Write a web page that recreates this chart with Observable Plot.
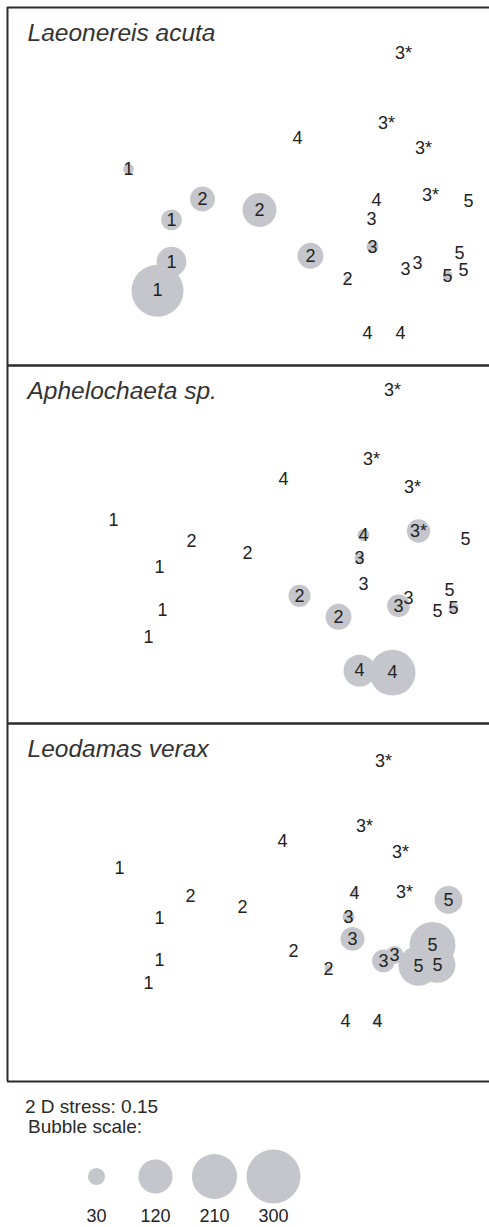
<!DOCTYPE html>
<html><head><meta charset="utf-8">
<script src="https://cdn.jsdelivr.net/npm/d3@7"></script>
<script src="https://cdn.jsdelivr.net/npm/@observablehq/plot@0.6"></script>
<style>
html,body{margin:0;padding:0;background:#fff;overflow:hidden;}
#wrap{position:relative;width:489px;height:1227px;font-family:Arial,"Liberation Sans",sans-serif;color:#2a2a2a;}
#main{position:absolute;left:0;top:0;}
#legend{position:absolute;left:0;top:1140px;}
.note{position:absolute;font-size:19px;line-height:22px;white-space:nowrap;}
</style></head><body>
<div id="wrap">
  <div id="main"></div>
  <div class="note" style="left:25px;top:1096px">2 D stress: 0.15</div>
  <div class="note" style="left:28px;top:1116px">Bubble scale:</div>
  <div id="legend"></div>
</div>
<script>
// Panels (species) shown with abundance bubbles over the same nMDS ordination
const species = ["Laeonereis acuta", "Aphelochaeta sp.", "Leodamas verax"];
// Sample group labels (4 replicates per group)
const groups = ["1","1","1","1","2","2","2","2","3","3","3","3","3*","3*","3*","3*","4","4","4","4","5","5","5","5"];

// Ordination coordinates (x to the right, y downward from panel top)
const xLaeonereis = [121,164,164,150, 195,252,303,340, 364,365,398,410, 396,379,416,423, 290,369,360,393, 461,452,440,456];
const yLaeonereis = [162,213,255,284, 192,203,249,272, 212,240,262,256, 46,116,141,188, 131,193,327,327, 194,246,269,263];
const xAphelochaeta = [106,152,155,141, 184,240,292,331, 352,356,391,401, 385,364,405,411, 276,356,352,385, 458,442,430,446];
const yAphelochaeta = [155,202,245,272, 176,188,231,252, 193,219,241,233, 25,94,122,166, 114,170,306,308, 174,225,246,243];
const xLeodamas = [112,152,152,141, 183,235,286,321, 341,345,376,387, 376,357,393,397, 275,347,338,370, 441,425,411,430];
const yLeodamas = [145,195,237,260, 173,184,228,246, 194,216,238,232, 38,103,129,169, 118,170,299,299, 177,222,243,242];

// Abundance (bubble size) per sample
const nLaeonereis = [12,45,92,278, 64,119,69,3, 0,15,0,0, 0,0,0,0, 0,0,0,0, 0,0,10,0];
const nAphelochaeta = [0,0,0,0, 0,0,50,69, 10,0,53,0, 0,0,0,56, 0,15,105,217, 0,0,0,10];
const nLeodamas = [0,0,0,0, 0,0,0,6, 15,59,54,33, 0,0,0,0, 0,4,0,6, 80,217,164,133];

// Bubble scale legend values
const legendValues = [30, 120, 210, 300];

const xs = [xLaeonereis, xAphelochaeta, xLeodamas];
const ys = [yLaeonereis, yAphelochaeta, yLeodamas];
const ns = [nLaeonereis, nAphelochaeta, nLeodamas];

const rows = [];
species.forEach((sp, p) => groups.forEach((g, i) => rows.push({panel: sp, group: g, x: xs[p][i], y: ys[p][i], n: ns[p][i]})));

const font = 'Arial, "Liberation Sans", sans-serif';
const bubble = "#c4c6cb";
const rScale = {type: "sqrt", domain: [0, 300], range: [0, 27]};

const main = Plot.plot({
  width: 489, height: 1090,
  marginTop: 6, marginBottom: 8, marginLeft: 7, marginRight: 0,
  x: {domain: [0, 482], axis: null},
  y: {domain: [0, 359], reverse: true, axis: null},
  fy: {domain: species, padding: 0, axis: null},
  r: rScale,
  style: {fontFamily: font, background: "white", overflow: "visible"},
  marks: [
    Plot.dot(rows, {x: "x", y: "y", r: "n", fy: "panel", fill: bubble, stroke: null}),
    Plot.text(rows, {x: "x", y: "y", fy: "panel", text: "group", fontSize: 18, fill: "#222"}),
    Plot.text(species, {fy: d => d, text: d => d, frameAnchor: "top-left", lineAnchor: "top", dx: 20, dy: 16, fontSize: 24.5, fontStyle: "italic", fill: "#333"}),
    Plot.ruleY([0, 359], {stroke: "#2b2b2b", strokeWidth: 2}),
    Plot.ruleX([0], {stroke: "#2b2b2b", strokeWidth: 2})
  ]
});
document.getElementById("main").appendChild(main);

const legend = Plot.plot({
  width: 489, height: 87, margin: 0,
  x: {type: "point", domain: legendValues, range: [95, 274], padding: 0, axis: null},
  y: {type: "point", domain: ["bubble", "label"], range: [35.5, 76], padding: 0, axis: null},
  r: rScale,
  style: {fontFamily: font, background: "white", overflow: "visible"},
  marks: [
    Plot.dot(legendValues, {x: d => d, y: () => "bubble", r: d => d, fill: bubble, stroke: null}),
    Plot.text(legendValues, {x: d => d, y: () => "label", text: d => String(d), fontSize: 18, fill: "#222"})
  ]
});
document.getElementById("legend").appendChild(legend);
</script>
</body></html>
